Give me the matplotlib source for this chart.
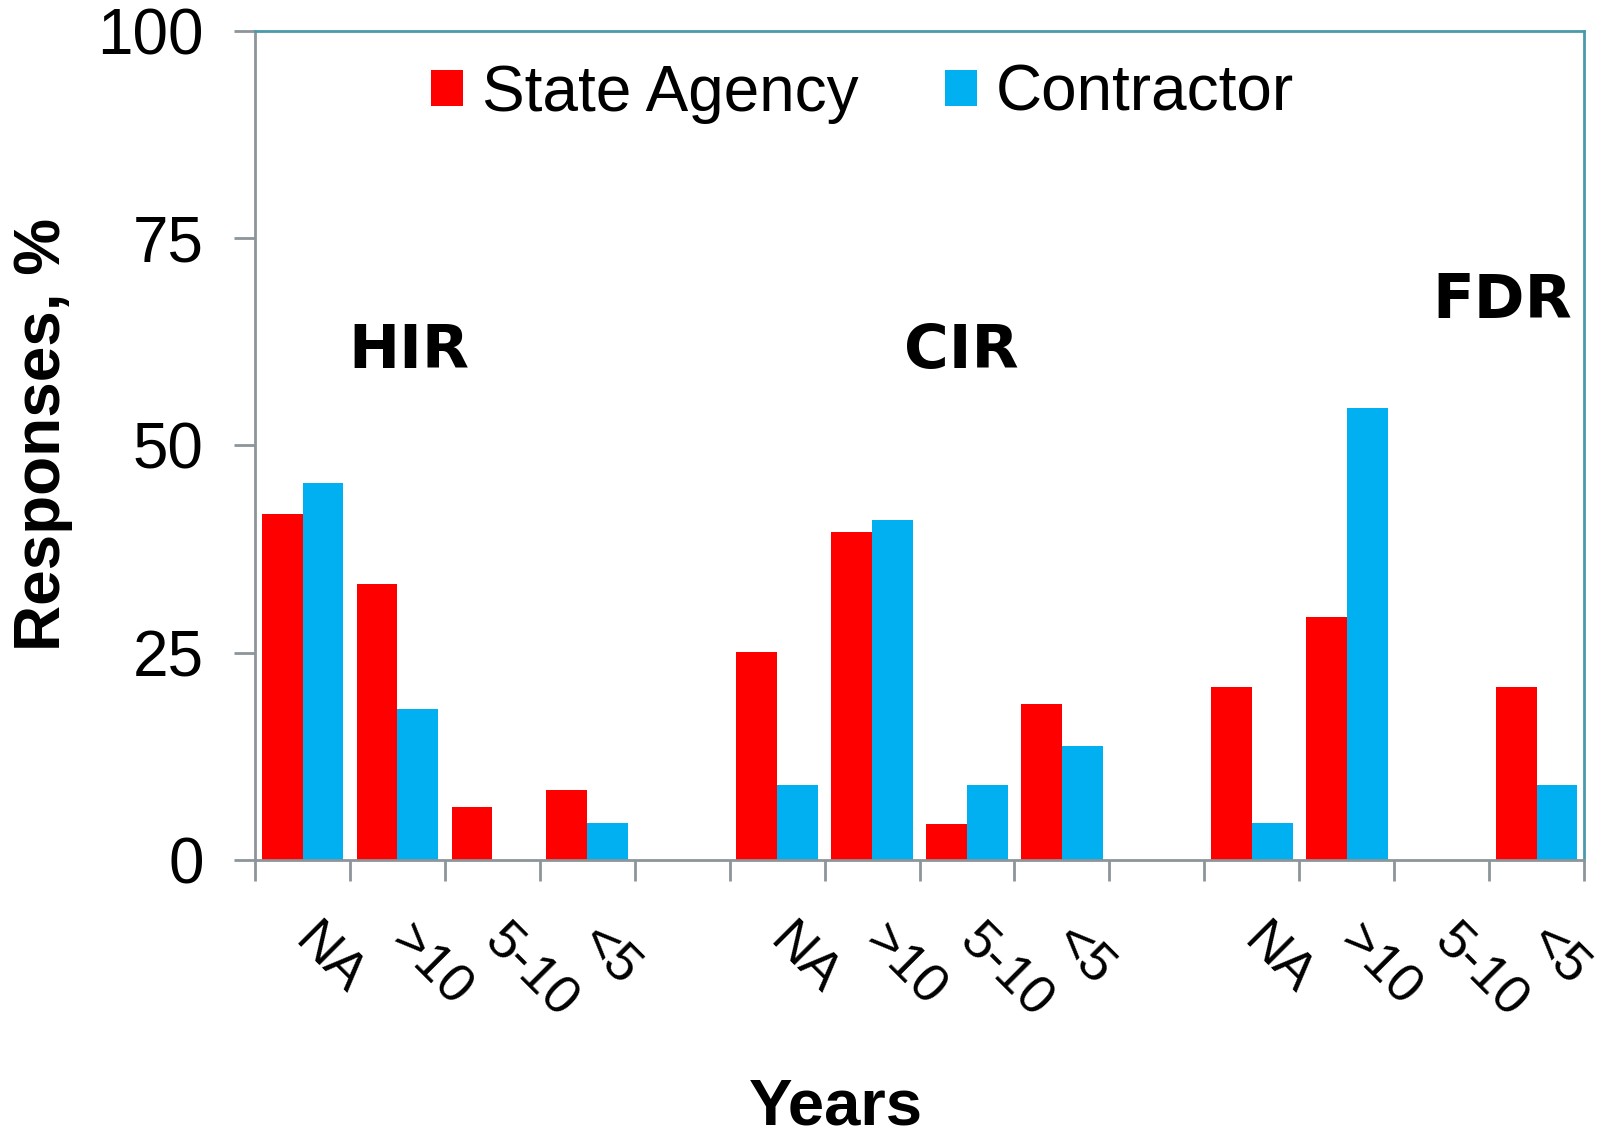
# Survey responses by years of experience, HIR / CIR / FDR
import matplotlib
matplotlib.use("Agg")
import matplotlib.pyplot as plt
import numpy as np

categories = ["NA", ">10", "5-10", "<5", "",
              "NA", ">10", "5-10", "<5", "",
              "NA", ">10", "5-10", "<5"]
state_agency = [41.7, 33.3, 6.4, 8.4, 0,
                25.1, 39.6, 4.3, 18.8, 0,
                20.8, 29.3, 0, 20.8]
contractor = [45.5, 18.2, 0, 4.5, 0,
              9.1, 41.0, 9.1, 13.7, 0,
              4.5, 54.5, 0, 9.1]
groups = ["HIR", "CIR", "FDR"]

plt.rcParams['font.family'] = ['Liberation Sans', 'DejaVu Sans']

fig = plt.figure(figsize=(16, 11.38), dpi=100)
ax = fig.add_axes([0.1594, 0.2443, 0.8306, 0.7288])

x = np.arange(len(categories))
w = 0.43
ax.bar(x - w/2, state_agency, w, color='#ff0000', label='State Agency')
ax.bar(x + w/2, contractor, w, color='#00b0f0', label='Contractor')

ax.set_xlim(-0.5, len(categories) - 0.5)
ax.set_ylim(0, 100)
ax.set_yticks([0, 25, 50, 75, 100])
ax.set_xticks(np.arange(-0.5, len(categories), 1))
ax.set_xticklabels([])
ax.set_xticks(x, minor=True)
ax.set_xticklabels(categories, minor=True, rotation=-45, ha='left', va='center',
                   rotation_mode='anchor', fontsize=39)
ax.tick_params(axis='x', which='minor', length=0, pad=53)
ax.tick_params(axis='x', which='major', length=15, width=2, color='#8c9599')
ax.tick_params(axis='y', length=15, width=2, color='#8c9599', labelsize=46, pad=22)

for s in ['left', 'bottom']:
    ax.spines[s].set_color('#8c9599')
    ax.spines[s].set_linewidth(2)
for s in ['top', 'right']:
    ax.spines[s].set_color('#4a9aab')
    ax.spines[s].set_linewidth(2)

# group labels
ax.text(1.12, 61.3, groups[0], fontsize=44, fontweight='bold', family='DejaVu Sans',
        ha='center', va='center')
ax.text(6.94, 61.3, groups[1], fontsize=44, fontweight='bold', family='DejaVu Sans',
        ha='center', va='center')
ax.text(12.64, 67.3, groups[2], fontsize=44, fontweight='bold', family='DejaVu Sans',
        ha='center', va='center')

ax.legend(loc='center', bbox_to_anchor=(0.457, 0.924), ncol=2, frameon=False,
          fontsize=46, handlelength=0.5, handleheight=0.5, handletextpad=0.3,
          columnspacing=1.35)

fig.text(0.027, 0.618, 'Responses, %', fontsize=46, fontweight='bold',
         rotation=90, ha='center', va='center')
fig.text(0.5225, 0.027, 'Years', fontsize=47, fontweight='bold', ha='center', va='center')

fig.savefig('out.png', dpi=100)
